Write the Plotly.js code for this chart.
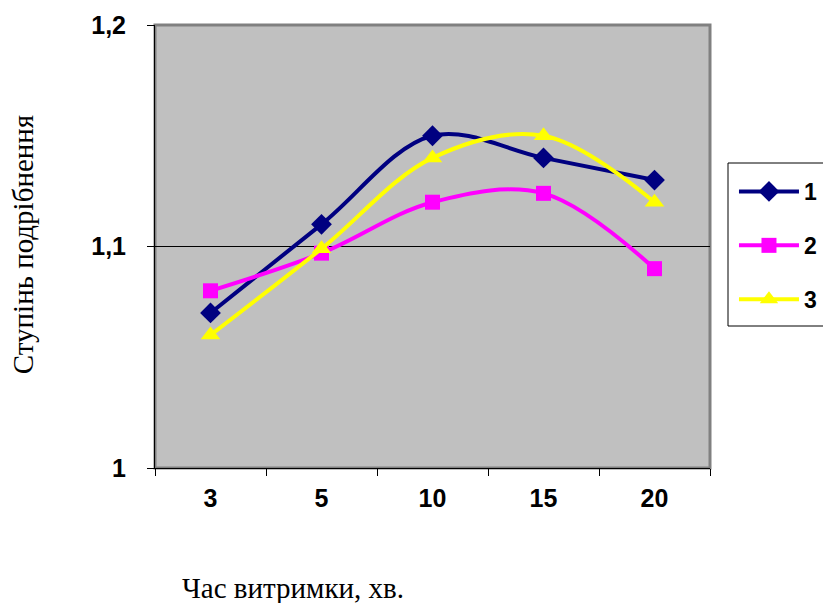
<!DOCTYPE html>
<html><head><meta charset="utf-8">
<script src="https://cdn.plot.ly/plotly-3.0.1.min.js"></script>
<style>body{margin:0;background:#fff}#c{width:823px;height:603px}</style>
</head><body><div id="c"></div>
<script>
const categories = ['3', '5', '10', '15', '20'];
const series1 = [1.07, 1.11, 1.15, 1.14, 1.13];
const series2 = [1.08, 1.097, 1.12, 1.124, 1.09];
const series3 = [1.06, 1.099, 1.14, 1.15, 1.12];
const seriesNames = ['1', '2', '3'];
const yTitle = 'Ступінь подрібнення';
const xTitle = 'Час витримки, хв.';

function tr(y, name, color, symbol, size, grp) {
  return {x: categories, y: y, name: name, type: 'scatter', mode: 'lines+markers',
    line: {color: color, width: 4, shape: 'spline', smoothing: 1},
    marker: {color: color, symbol: symbol, size: size}, legendgroup: grp};
}
const data = [
  tr(series1, seriesNames[0], '#000080', 'diamond', 16, 'a'),
  tr(series2, seriesNames[1], '#FF00FF', 'square', 15, 'b'),
  tr(series3, seriesNames[2], '#FFFF00', 'triangle-up', 17, 'c')
];
const tf = {family: 'Liberation Sans, Arial', size: 25, color: '#000', weight: 'bold'};
const layout = {
  width: 823, height: 603,
  margin: {l: 155, r: 113, t: 25, b: 135, autoexpand: false},
  paper_bgcolor: '#ffffff', plot_bgcolor: '#c0c0c0',
  separators: ', ',
  showlegend: true,
  font: {family: 'Liberation Sans, Arial', color: '#000'},
  xaxis: {type: 'category', range: [-0.5, 4.5], tickson: 'boundaries', automargin: false,
    ticks: 'outside', ticklen: 7, tickcolor: '#000', showline: true, linecolor: '#000', linewidth: 1,
    showgrid: false, zeroline: false, ticklabelstandoff: 8, tickfont: tf},
  yaxis: {range: [1, 1.2], dtick: 0.1, tick0: 1, ticks: 'outside', ticklen: 7, tickcolor: '#000',
    showline: true, linecolor: '#000', linewidth: 1, showgrid: true, gridcolor: '#000', gridwidth: 1,
    automargin: false, zeroline: false, ticklabelstandoff: 16, tickfont: tf},
  legend: {x: 1.0432, xanchor: 'left', y: 0.6727, yanchor: 'top', borderwidth: 0,
    bgcolor: 'rgba(0,0,0,0)', tracegroupgap: 21, itemwidth: 60,
    font: {family: 'Liberation Sans, Arial', size: 23, color: '#000', weight: 'bold'}},
  shapes: [
    {type: 'rect', xref: 'paper', yref: 'paper', x0: 0, x1: 1, y0: 0, y1: 1,
      line: {color: '#808080', width: 3}, layer: 'below'},
    {type: 'rect', xref: 'paper', yref: 'paper', x0: (728 - 155) / 555, x1: (830 - 155) / 555,
      y0: (468 - 326) / 443, y1: (468 - 163) / 443,
      line: {color: '#000', width: 1}, fillcolor: '#fff', layer: 'below'}
  ],
  annotations: [
    {text: yTitle, xref: 'paper', yref: 'paper', x: -0.2378, y: 0.503, textangle: -90, showarrow: false,
      xanchor: 'center', yanchor: 'middle',
      font: {family: 'Liberation Serif, Times New Roman', size: 29, color: '#000'}},
    {text: xTitle, xref: 'paper', yref: 'paper', x: 0.045, y: -0.271, showarrow: false,
      xanchor: 'left', yanchor: 'middle',
      font: {family: 'Liberation Serif, Times New Roman', size: 29, color: '#000'}}
  ]
};
Plotly.newPlot('c', data, layout, {displayModeBar: false});
</script></body></html>
